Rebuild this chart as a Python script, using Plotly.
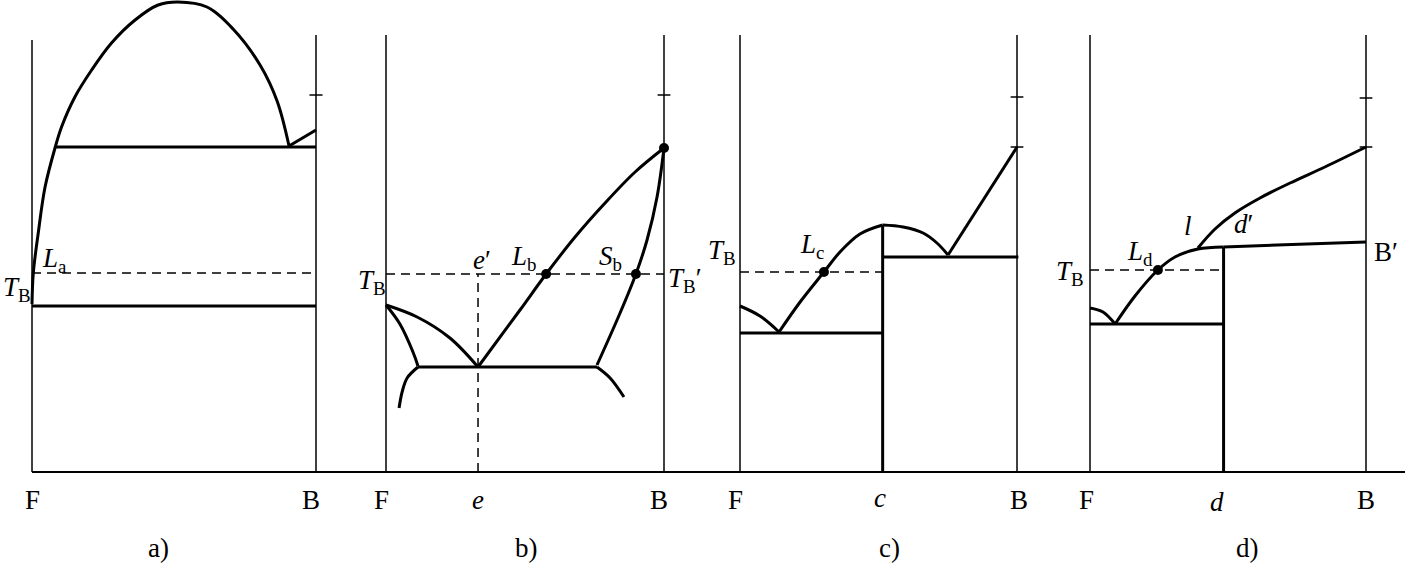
import plotly.graph_objects as go

# ---------------- data (composition F=0 .. B=1, temperature in arbitrary units, baseline = 0) ----------------
# panel a)
a_dome_x = [0, 0.0046, 0.022, 0.046, 0.081, 0.104, 0.151, 0.210, 0.280, 0.363, 0.444, 0.514,
            0.616, 0.708, 0.803, 0.863, 0.905]
a_dome_T = [168, 199, 239, 285, 324, 345, 375, 402, 429, 452, 467, 470,
            465, 443, 407, 371, 326]
a_upper_x, a_upper_T = [0.084, 1.0], [325, 325]
a_step_x, a_step_T = [0.905, 1.0], [326, 342]
a_lower_x, a_lower_T = [0.0, 1.0], [166, 166]
a_TB = 199
a_axis_top = [432, 437]
a_ticks = [377]

# panel b)
b_liq_x = [0.331, 0.482, 0.576, 0.680, 0.788, 0.896, 1.0]
b_liq_T = [105, 162, 198, 235, 269, 300, 324]
b_sol_x = [1.0, 0.975, 0.939, 0.899, 0.842, 0.759]
b_sol_T = [324, 275, 232, 198, 159, 107]
b_eut_x, b_eut_T = [0.115, 0.759], [105, 105]
b_Fsol_x = [0.0, 0.050, 0.097, 0.115]
b_Fsol_T = [167, 148, 120, 106]
b_Fliq_x = [0.0, 0.112, 0.230, 0.331]
b_Fliq_T = [167, 155, 134, 105]
b_arcL_x = [0.115, 0.076, 0.058, 0.047]
b_arcL_T = [105, 94, 80, 64]
b_arcR_x = [0.759, 0.806, 0.856]
b_arcR_T = [105, 94, 75]
b_TB = 198
b_e = 0.331
b_points_x = [0.576, 0.899, 1.0]
b_points_T = [198, 198, 324]
b_axis_top = [437, 437]
b_ticks = [377]

# panel c)
c_comp = 0.515
c_comp_top = 247
c_sag_x = [0.0, 0.072, 0.141]
c_sag_T = [166, 156, 140]
c_liq_x = [0.141, 0.217, 0.303, 0.361, 0.433, 0.515]
c_liq_T = [140, 170, 200, 220, 238, 247]
c_dome_x = [0.515, 0.589, 0.661, 0.711, 0.751]
c_dome_T = [247, 245, 239, 229, 217]
c_liqB_x = [0.751, 1.0]
c_liqB_T = [217, 325]
c_low_x, c_low_T = [0.0, 0.515], [139, 139]
c_high_x, c_high_T = [0.515, 1.005], [215, 215]
c_TB = 200
c_points_x, c_points_T = [0.303], [200]
c_axis_top = [437, 437]
c_ticks = [375, 325]

# panel d)
d_comp = 0.484
d_comp_top = 225
d_sag_x = [0.0, 0.047, 0.091]
d_sag_T = [164, 160, 148]
d_liq_x = [0.091, 0.163, 0.246, 0.308, 0.391, 0.484]
d_liq_T = [148, 176, 202, 215, 223, 225]
d_upper_x = [0.391, 0.453, 0.525, 0.616, 0.725, 0.851, 1.0]
d_upper_T = [224, 243, 259, 274, 289, 305, 325]
d_high_x, d_high_T = [0.484, 1.0], [225, 230]
d_low_x, d_low_T = [0.0, 0.484], [148, 148]
d_TB = 202
d_points_x, d_points_T = [0.246], [202]
d_axis_top = [437, 437]
d_ticks = [374, 325]

# ---------------- layout frame (pixel geometry of the four panels) ----------------
W, H = 1405, 565
T_MIN, T_MAX = -93, 472
frames = {  # domain_left_px, domain_right_px, F_px, B_px
    "a": (0, 350, 32, 316),
    "b": (350, 705, 386, 664),
    "c": (705, 1055, 740, 1017),
    "d": (1055, 1405, 1090, 1366),
}
axis_ids = {"a": "x", "b": "x2", "c": "x3", "d": "x4"}

THICK, THIN = 3, 1.5
BLACK = "black"
FONT = "Liberation Serif"
FS = 27

fig = go.Figure()


def line(p, xs, ys, width=THICK, dash=None, shape="linear"):
    fig.add_trace(go.Scatter(
        x=xs, y=ys, mode="lines", xaxis=axis_ids[p], yaxis="y",
        line=dict(color=BLACK, width=width, dash=dash, shape=shape),
        hoverinfo="skip", showlegend=False))


def dots(p, xs, ys):
    fig.add_trace(go.Scatter(
        x=xs, y=ys, mode="markers", xaxis=axis_ids[p], yaxis="y",
        marker=dict(color=BLACK, size=10), hoverinfo="skip", showlegend=False))


def label(p, x, y, text, size=FS):
    fig.add_annotation(x=x, y=y, xref=axis_ids[p], yref="y", text=text, showarrow=False,
                       font=dict(family=FONT, size=size, color=BLACK),
                       xanchor="center", yanchor="middle")


def rng(p):
    l, r, f, b = frames[p]
    w = b - f
    return [(l - f) / w, (r - f) / w]


DASH = "9px,6px"
TICK_HALF = 0.023

# frame: side axes, baseline, ticks
for p, tops, ticks in [("a", a_axis_top, a_ticks), ("b", b_axis_top, b_ticks),
                       ("c", c_axis_top, c_ticks), ("d", d_axis_top, d_ticks)]:
    line(p, [0, 0], [0, tops[0]], width=THIN)
    line(p, [1, 1], [0, tops[1]], width=THIN)
    r = rng(p)
    line(p, [0 if p == "a" else r[0], r[1]], [0, 0], width=2)
    for t in ticks:
        line(p, [1 - TICK_HALF, 1 + TICK_HALF], [t, t], width=THIN)

# panel a
line("a", a_dome_x, a_dome_T, shape="spline")
line("a", a_upper_x, a_upper_T)
line("a", a_step_x, a_step_T)
line("a", a_lower_x, a_lower_T)
line("a", [0, 1], [a_TB, a_TB], width=THIN, dash=DASH)

# panel b
line("b", b_liq_x, b_liq_T, shape="spline")
line("b", b_sol_x, b_sol_T, shape="spline")
line("b", b_eut_x, b_eut_T)
line("b", b_Fsol_x, b_Fsol_T, shape="spline")
line("b", b_Fliq_x, b_Fliq_T, shape="spline")
line("b", b_arcL_x, b_arcL_T, shape="spline")
line("b", b_arcR_x, b_arcR_T, shape="spline")
line("b", [0, 1], [b_TB, b_TB], width=THIN, dash=DASH)
line("b", [b_e, b_e], [0, b_TB], width=THIN, dash=DASH)
dots("b", b_points_x, b_points_T)

# panel c
line("c", [c_comp, c_comp], [0, c_comp_top])
line("c", c_sag_x, c_sag_T, shape="spline")
line("c", c_liq_x, c_liq_T, shape="spline")
line("c", c_dome_x, c_dome_T, shape="spline")
line("c", c_liqB_x, c_liqB_T)
line("c", c_low_x, c_low_T)
line("c", c_high_x, c_high_T)
line("c", [0, c_comp], [c_TB, c_TB], width=THIN, dash=DASH)
dots("c", c_points_x, c_points_T)

# panel d
line("d", [d_comp, d_comp], [0, d_comp_top])
line("d", d_sag_x, d_sag_T, shape="spline")
line("d", d_liq_x, d_liq_T, shape="spline")
line("d", d_upper_x, d_upper_T, shape="spline")
line("d", d_high_x, d_high_T)
line("d", d_low_x, d_low_T)
line("d", [0, d_comp], [d_TB, d_TB], width=THIN, dash=DASH)
dots("d", d_points_x, d_points_T)

# labels
TB = "<i>T</i><sub>B</sub>"
label("a", -0.052, 183, TB)
label("a", 0.08, 212, "<i>L</i><sub>a</sub>")
label("a", 0.0, -28, "F"); label("a", 0.982, -28, "B"); label("a", 0.444, -76, "a)")

label("b", -0.05, 190, TB)
label("b", 0.345, 212, "<i>e</i>′")
label("b", 0.496, 214, "<i>L</i><sub>b</sub>")
label("b", 0.806, 214, "<i>S</i><sub>b</sub>")
label("b", 1.075, 192, TB + "′")
label("b", -0.018, -28, "F"); label("b", 0.331, -28, "<i>e</i>"); label("b", 0.982, -28, "B")
label("b", 0.507, -76, "b)")

label("c", -0.065, 220, TB)
label("c", 0.26, 226, "<i>L</i><sub>c</sub>")
label("c", -0.018, -28, "F"); label("c", 0.505, -26, "<i>c</i>"); label("c", 1.007, -28, "B")
label("c", 0.538, -76, "c)")

label("d", -0.072, 199, TB)
label("d", 0.181, 219, "<i>L</i><sub>d</sub>")
label("d", 0.355, 246, "<i>l</i>")
label("d", 0.555, 248, "<i>d</i>′")
label("d", 1.072, 220, "B′")
label("d", -0.011, -28, "F"); label("d", 0.46, -30, "<i>d</i>"); label("d", 1.0, -28, "B")
label("d", 0.569, -76, "d)")

layout_axes = {}
for p, aid in axis_ids.items():
    l, r, f, b = frames[p]
    key = "xaxis" if aid == "x" else "xaxis" + aid[1:]
    layout_axes[key] = dict(domain=[l / W, r / W], range=rng(p), visible=False,
                            fixedrange=True, anchor="y")
fig.update_layout(
    width=W, height=H, autosize=False,
    margin=dict(l=0, r=0, t=0, b=0, pad=0),
    paper_bgcolor="white", plot_bgcolor="white",
    font=dict(family=FONT, size=FS, color=BLACK),
    yaxis=dict(range=[T_MIN, T_MAX], visible=False, fixedrange=True, domain=[0, 1]),
    showlegend=False,
    **layout_axes,
)

fig.write_html("out.html", config={"displayModeBar": False},
               post_script="document.body.style.margin='0';document.body.style.overflow='hidden';")
